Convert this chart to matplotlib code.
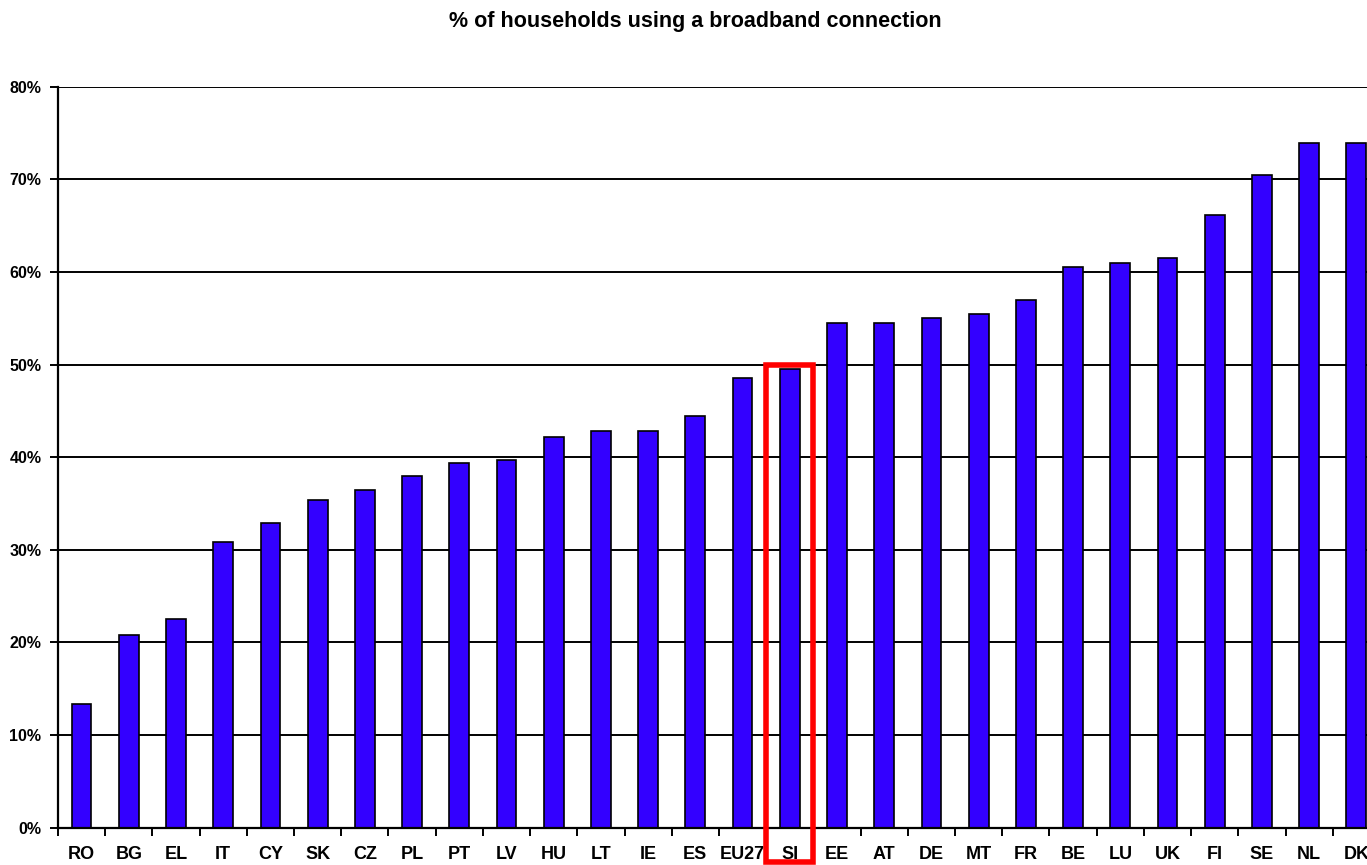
import numpy as np
import matplotlib.pyplot as plt
from matplotlib.patches import Rectangle

# % of households using a broadband connection
countries = ["RO", "BG", "EL", "IT", "CY", "SK", "CZ", "PL", "PT", "LV",
             "HU", "LT", "IE", "ES", "EU27", "SI", "EE", "AT", "DE", "MT",
             "FR", "BE", "LU", "UK", "FI", "SE", "NL", "DK"]
share = [13.4, 20.8, 22.5, 30.8, 32.9, 35.4, 36.5, 38.0, 39.4, 39.7,
         42.2, 42.8, 42.8, 44.5, 48.6, 49.5, 54.5, 54.5, 55.0, 55.5,
         57.0, 60.5, 61.0, 61.5, 66.2, 70.5, 73.9, 73.9]
yticks = [0, 10, 20, 30, 40, 50, 60, 70, 80]
highlight = "SI"

plt.rcParams["font.family"] = ["Liberation Sans", "DejaVu Sans"]

fig = plt.figure(figsize=(13.67, 8.65), dpi=100)
fig.patch.set_facecolor("white")
ax = fig.add_axes([0.0424, 0.0431, 0.9671, 0.8567])

x = np.arange(len(countries))
ax.set_axisbelow(True)
for v in yticks[1:]:
    ax.axhline(v, color="black", lw=1.4, zorder=0)
ax.bar(x, share, width=0.42, color="#3300ff", edgecolor="black",
       linewidth=1.2, zorder=2)

ax.set_xlim(-0.5, len(countries) - 0.5)
ax.set_ylim(0, 80)
ax.set_yticks(yticks)
ax.set_yticklabels([f"{v}%" for v in yticks], fontsize=11.5,
                   fontweight="bold")
ax.set_xticks(x)
ax.set_xticklabels(countries, fontsize=13, fontweight="bold")
ax.set_xticks(np.arange(-0.5, len(countries)), minor=True)
ax.tick_params(axis="x", which="major", length=0, pad=13)
ax.tick_params(axis="x", which="minor", length=6, width=1.4, color="black")
ax.tick_params(axis="y", length=6, width=1.4, pad=6)

for side in ["top", "right"]:
    ax.spines[side].set_visible(False)
for side in ["left", "bottom"]:
    ax.spines[side].set_linewidth(1.6)
    ax.spines[side].set_color("black")

# red box around the highlighted country
i = countries.index(highlight)
ax.add_patch(Rectangle((i - 0.5, -3.7), 1.0, 53.7, fill=False,
                       edgecolor="#ff0000", lw=4, clip_on=False, zorder=5))

fig.text(695 / 1367, 1 - 22 / 865,
         "% of households using a broadband connection",
         ha="center", va="center", fontsize=15.5, fontweight="bold")

fig.savefig("out.png", dpi=100, facecolor="white")
